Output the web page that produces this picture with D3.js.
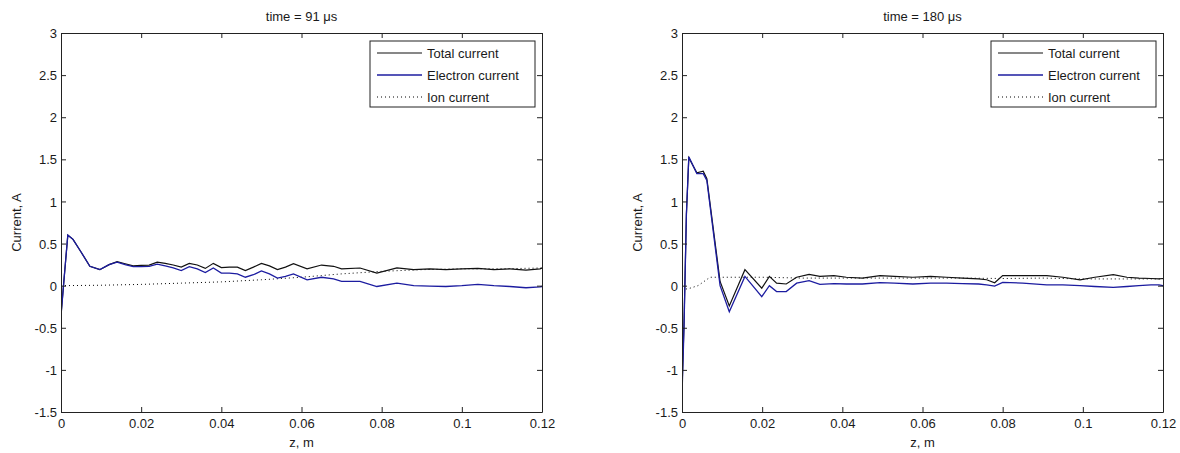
<!DOCTYPE html>
<html>
<head>
<meta charset="utf-8">
<script src="https://cdn.jsdelivr.net/npm/d3@7"></script>
<style>
  html, body { margin: 0; padding: 0; background: #fff; }
  svg { display: block; }
  text { font-family: "Liberation Sans", Arial, sans-serif; fill: #1a1a1a; }
</style>
</head>
<body>
<svg id="chart" width="1180" height="453"></svg>
<script>
// ---------- data ----------
const titles = ["time = 91 \u03bcs", "time = 180 \u03bcs"];
const xTicks = [0, 0.02, 0.04, 0.06, 0.08, 0.1, 0.12];
const yTicks = [-1.5, -1, -0.5, 0, 0.5, 1, 1.5, 2, 2.5, 3];
const legendLabels = ["Total current", "Electron current", "Ion current"];

// left panel (91 us)
const zL = [0, 0.0008, 0.0017, 0.003, 0.005, 0.0072, 0.0097, 0.012, 0.014, 0.016, 0.018, 0.020, 0.022, 0.024, 0.026, 0.028, 0.030, 0.032, 0.034, 0.036, 0.038, 0.040, 0.042, 0.044, 0.046, 0.048, 0.050, 0.052, 0.054, 0.056, 0.058, 0.0614, 0.065, 0.068, 0.070, 0.0746, 0.0788, 0.0838, 0.088, 0.092, 0.096, 0.100, 0.104, 0.108, 0.112, 0.116, 0.1195, 0.12];
const totalL = [-0.35, 0.1, 0.6, 0.55, 0.4, 0.23, 0.19, 0.25, 0.285, 0.26, 0.235, 0.24, 0.245, 0.28, 0.265, 0.245, 0.22, 0.265, 0.245, 0.205, 0.265, 0.215, 0.22, 0.22, 0.18, 0.22, 0.265, 0.235, 0.19, 0.22, 0.26, 0.2, 0.245, 0.23, 0.2, 0.21, 0.15, 0.21, 0.19, 0.2, 0.19, 0.2, 0.205, 0.19, 0.2, 0.185, 0.2, 0.21];
const electronL = [-0.36, 0.1, 0.6, 0.55, 0.4, 0.23, 0.19, 0.25, 0.28, 0.25, 0.225, 0.225, 0.23, 0.255, 0.235, 0.21, 0.18, 0.225, 0.2, 0.155, 0.21, 0.15, 0.15, 0.14, 0.1, 0.13, 0.175, 0.14, 0.09, 0.11, 0.14, 0.07, 0.1, 0.08, 0.05, 0.05, -0.01, 0.03, 0.0, -0.005, -0.01, 0.0, 0.015, 0.0, -0.01, -0.025, -0.015, -0.01];
const zIonL = [0, 0.01, 0.02, 0.03, 0.04, 0.05, 0.06, 0.065, 0.07, 0.075, 0.08, 0.09, 0.10, 0.11, 0.12];
const ionL = [0, 0.005, 0.015, 0.03, 0.045, 0.07, 0.1, 0.12, 0.14, 0.155, 0.17, 0.19, 0.2, 0.2, 0.21];

// right panel (180 us)
const zR = [0, 0.0005, 0.0011, 0.0017, 0.0037, 0.0053, 0.0062, 0.0095, 0.0118, 0.0157, 0.0199, 0.0218, 0.0236, 0.026, 0.0286, 0.0317, 0.0344, 0.0379, 0.041, 0.045, 0.0494, 0.053, 0.0576, 0.062, 0.066, 0.070, 0.074, 0.076, 0.078, 0.080, 0.085, 0.091, 0.095, 0.0993, 0.103, 0.1076, 0.111, 0.114, 0.117, 0.119, 0.12];
const totalR = [-1.25, -0.45, 0.85, 1.52, 1.34, 1.36, 1.27, 0.05, -0.24, 0.19, -0.03, 0.11, 0.03, 0.02, 0.1, 0.135, 0.11, 0.12, 0.1, 0.09, 0.12, 0.11, 0.1, 0.11, 0.1, 0.09, 0.08, 0.07, 0.035, 0.12, 0.12, 0.12, 0.1, 0.07, 0.1, 0.13, 0.1, 0.09, 0.085, 0.08, 0.085];
const electronR = [-1.3, -0.5, 0.85, 1.53, 1.33, 1.33, 1.25, 0.0, -0.31, 0.11, -0.13, 0.0, -0.07, -0.07, 0.03, 0.06, 0.015, 0.025, 0.02, 0.02, 0.035, 0.03, 0.02, 0.03, 0.03, 0.025, 0.02, 0.01, -0.005, 0.04, 0.03, 0.01, 0.01, 0.0, -0.01, -0.02, -0.01, 0.0, 0.01, 0.01, 0.0];
const zIonR = [0, 0.002, 0.004, 0.007, 0.01, 0.02, 0.03, 0.04, 0.05, 0.06, 0.07, 0.08, 0.09, 0.10, 0.11, 0.12];
const ionR = [-0.05, -0.03, 0.0, 0.1, 0.1, 0.1, 0.09, 0.09, 0.09, 0.09, 0.09, 0.085, 0.09, 0.08, 0.08, 0.08];

// ---------- drawing ----------
const svg = d3.select("#chart");
const W = 481, H = 379, TOP = 33;
const panels = [
  { left: 61, title: titles[0], z: zL, total: totalL, electron: electronL, zi: zIonL, ion: ionL },
  { left: 682, title: titles[1], z: zR, total: totalR, electron: electronR, zi: zIonR, ion: ionR }
];
const BLUE = "#1c1ca0";
const DOT = "1,3";

panels.forEach(p => {
  const g = svg.append("g").attr("transform", `translate(${p.left},${TOP})`);
  const x = d3.scaleLinear().domain([0, 0.12]).range([0, W]);
  const y = d3.scaleLinear().domain([-1.5, 3]).range([H, 0]);

  g.append("rect").attr("width", W).attr("height", H).attr("fill", "#fff");

  const clip = "clip" + p.left;
  g.append("clipPath").attr("id", clip).append("rect").attr("width", W).attr("height", H);
  const plot = g.append("g").attr("clip-path", `url(#${clip})`);

  const lineT = d3.line().x((d, i) => x(p.z[i])).y(d => y(d));
  const lineI = d3.line().x((d, i) => x(p.zi[i])).y(d => y(d));

  plot.append("path").datum(p.ion).attr("d", lineI)
    .attr("fill", "none").attr("stroke", "#000").attr("stroke-width", 1)
    .attr("stroke-dasharray", DOT);
  plot.append("path").datum(p.total).attr("d", lineT)
    .attr("fill", "none").attr("stroke", "#111").attr("stroke-width", 1.2);
  plot.append("path").datum(p.electron).attr("d", lineT)
    .attr("fill", "none").attr("stroke", BLUE).attr("stroke-width", 1.3);

  // axes: ticks pointing inward, box
  const tl = 5;
  const axB = g.append("g").attr("transform", `translate(0,${H})`)
    .call(d3.axisBottom(x).tickValues(xTicks).tickFormat(d => String(d)).tickSizeInner(-tl).tickSizeOuter(0).tickPadding(7));
  const axT = g.append("g")
    .call(d3.axisTop(x).tickValues(xTicks).tickFormat("").tickSizeInner(-tl).tickSizeOuter(0));
  const axL = g.append("g")
    .call(d3.axisLeft(y).tickValues(yTicks).tickFormat(d => String(d)).tickSizeInner(-tl).tickSizeOuter(0).tickPadding(4));
  const axR = g.append("g").attr("transform", `translate(${W},0)`)
    .call(d3.axisRight(y).tickValues(yTicks).tickFormat("").tickSizeInner(-tl).tickSizeOuter(0));
  [axB, axT, axL, axR].forEach(a => {
    a.selectAll("path.domain").attr("stroke", "#222").attr("stroke-width", 1);
    a.selectAll(".tick line").attr("stroke", "#222");
    a.selectAll(".tick text").attr("font-size", 13).attr("fill", "#1a1a1a")
      .attr("font-family", "'Liberation Sans', Arial, sans-serif");
  });
  axL.selectAll(".tick text").attr("dy", "0.35em");

  // labels
  g.append("text").attr("x", W / 2).attr("y", -12).attr("text-anchor", "middle")
    .attr("font-size", 13).text(p.title);
  g.append("text").attr("x", W / 2).attr("y", H + 35).attr("text-anchor", "middle")
    .attr("font-size", 13).text("z, m");
  g.append("text").attr("transform", `translate(-40,${H / 2}) rotate(-90)`)
    .attr("text-anchor", "middle").attr("font-size", 13).text("Current, A");

  // legend
  const LW = 165, LH = 66;
  const lg = g.append("g").attr("transform", `translate(${W - 7 - LW},8)`);
  lg.append("rect").attr("width", LW).attr("height", LH).attr("fill", "#fff")
    .attr("stroke", "#222").attr("stroke-width", 1);
  const styles = [
    { stroke: "#111", dash: null, w: 1.2 },
    { stroke: BLUE, dash: null, w: 1.3 },
    { stroke: "#000", dash: DOT, w: 1 }
  ];
  legendLabels.forEach((lab, i) => {
    const cy = 12 + i * 22;
    lg.append("line").attr("x1", 7).attr("x2", 52).attr("y1", cy).attr("y2", cy)
      .attr("stroke", styles[i].stroke).attr("stroke-width", styles[i].w)
      .attr("stroke-dasharray", styles[i].dash);
    lg.append("text").attr("x", 57).attr("y", cy).attr("dy", "0.35em")
      .attr("font-size", 13).text(lab);
  });
});
</script>
</body>
</html>
